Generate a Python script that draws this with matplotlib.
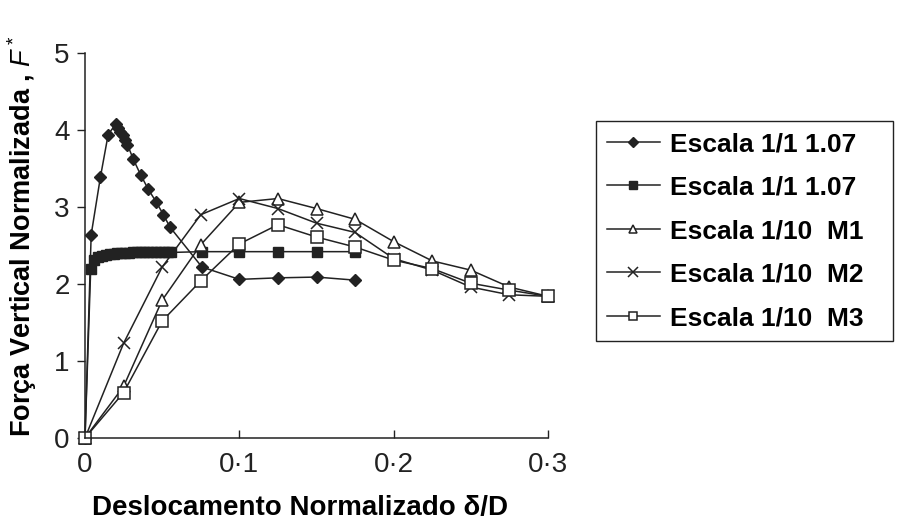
import matplotlib
matplotlib.use("Agg")
import matplotlib.pyplot as plt

plt.rcParams['font.family'] = ['Liberation Sans', 'DejaVu Sans']
plt.rcParams['mathtext.fontset'] = 'custom'
plt.rcParams['mathtext.it'] = 'Liberation Sans:italic'
plt.rcParams['mathtext.rm'] = 'Liberation Sans'

# Escala 1/1 1.07 (diamonds)
prot_d_x = [0, 0.004, 0.010, 0.015, 0.020, 0.0215, 0.023, 0.0245, 0.026, 0.0275,
            0.0313, 0.036, 0.041, 0.046, 0.0508, 0.055, 0.0758, 0.100, 0.125, 0.150, 0.175]
prot_d_y = [0, 2.64, 3.39, 3.94, 4.08, 4.03, 3.98, 3.93, 3.87, 3.81,
            3.62, 3.42, 3.23, 3.07, 2.90, 2.74, 2.22, 2.06, 2.08, 2.09, 2.05]

# Escala 1/1 1.07 (filled squares)
prot_s_x = [0, 0.0037, 0.006, 0.0085, 0.011, 0.0135, 0.016, 0.0185, 0.021, 0.0235,
            0.026, 0.0285, 0.031, 0.0335, 0.036, 0.0385, 0.041, 0.0435, 0.046, 0.0485,
            0.051, 0.0535, 0.056, 0.0758, 0.100, 0.125, 0.150, 0.175]
prot_s_y = [0, 2.20, 2.31, 2.35, 2.37, 2.38, 2.39, 2.39, 2.40, 2.40,
            2.40, 2.40, 2.41, 2.41, 2.41, 2.41, 2.41, 2.41, 2.41, 2.41,
            2.41, 2.41, 2.41, 2.42, 2.42, 2.42, 2.42, 2.42]

# Escala 1/10 models
mod_x = [0, 0.025, 0.050, 0.075, 0.100, 0.125, 0.150, 0.175, 0.200, 0.225, 0.250, 0.275, 0.300]
m1_y = [0, 0.67, 1.79, 2.51, 3.06, 3.11, 2.98, 2.84, 2.55, 2.30, 2.18, 1.96, 1.84]
m2_y = [0, 1.23, 2.22, 2.90, 3.11, 2.98, 2.79, 2.67, 2.33, 2.18, 1.96, 1.86, 1.84]
m3_y = [0, 0.59, 1.52, 2.04, 2.52, 2.77, 2.61, 2.48, 2.31, 2.20, 2.01, 1.92, 1.84]

labels = ["Escala 1/1 1.07", "Escala 1/1 1.07", "Escala 1/10  M1",
          "Escala 1/10  M2", "Escala 1/10  M3"]
x_ticks = [0, 0.1, 0.2, 0.3]
x_tick_labels = ["0", "0\u00b71", "0\u00b72", "0\u00b73"]
y_ticks = [0, 1, 2, 3, 4, 5]

ink = "#222222"

fig = plt.figure(figsize=(8.97, 5.25), dpi=100)
ax = fig.add_axes([85 / 897, 1 - 438 / 525, 463 / 897, 385 / 525])

common = dict(color=ink, lw=1.1, clip_on=False)
ax.plot(prot_d_x, prot_d_y, marker='D', ms=6, mfc=ink, mec=ink, label=labels[0], **common)
ax.plot(prot_s_x, prot_s_y, marker='s', ms=7, mfc=ink, mec=ink, label=labels[1], **common)
ax.plot(mod_x, m1_y, marker='^', ms=8, mfc='white', mec=ink, mew=1.1, label=labels[2], **common)
ax.plot(mod_x, m2_y, marker='x', ms=9, mec=ink, mew=1.1, label=labels[3], **common)
ax.plot(mod_x, m3_y, marker='s', ms=8, mfc='white', mec=ink, mew=1.1, label=labels[4], **common)

ax.set_xlim(0, 0.3)
ax.set_ylim(0, 5)
ax.spines['top'].set_visible(False)
ax.spines['right'].set_visible(False)
for s in ('left', 'bottom'):
    ax.spines[s].set_color(ink)
    ax.spines[s].set_linewidth(1.1)

ax.set_xticks(x_ticks)
ax.set_xticklabels(x_tick_labels)
ax.set_yticks(y_ticks)
ax.tick_params(axis='x', direction='in', length=6, width=1, pad=10,
               labelsize=20, colors=ink)
ax.tick_params(axis='y', direction='out', length=6, width=1, pad=5,
               labelsize=20, colors=ink)

fig.text(300 / 897, 1 - 508 / 525, "Deslocamento Normalizado \u03b4/D",
         ha='center', va='center', fontsize=20, fontweight='bold', color='black')
fig.text(22 / 897, 1 - 236 / 525, "Força Vertical Normalizada , $F^*$",
         ha='center', va='center', rotation=90, fontsize=19.5,
         fontweight='bold', color='black')

leg = fig.legend(loc='upper left',
                 bbox_to_anchor=(596 / 897, 1 - 121 / 525, 297 / 897, 0.0),
                 mode='expand', frameon=True, fancybox=False, shadow=False,
                 prop={'weight': 'bold', 'size': 19}, borderpad=0.42,
                 labelspacing=0.74, handlelength=2.0, handletextpad=0.4,
                 markerscale=0.8, borderaxespad=0.0)
leg.get_frame().set_edgecolor(ink)
leg.get_frame().set_linewidth(1.0)
leg.get_frame().set_alpha(1)

fig.savefig("out.png", dpi=100)
